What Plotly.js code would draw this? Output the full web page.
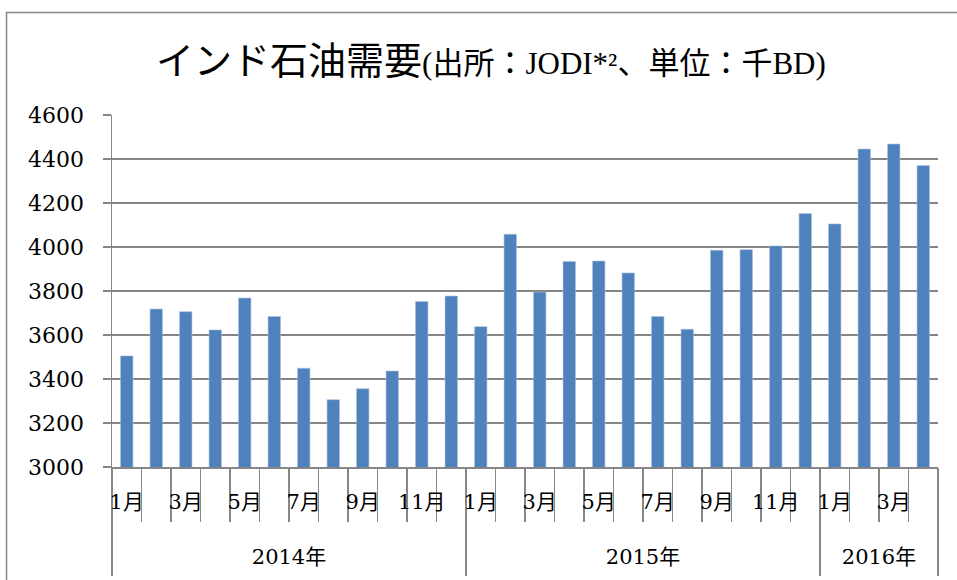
<!DOCTYPE html>
<html>
<head>
<meta charset="utf-8">
<script src="https://cdn.plot.ly/plotly-3.0.1.min.js"></script>
<style>
html,body{margin:0;padding:0;background:#fff;}
#chart{width:957px;height:580px;}
</style>
</head>
<body>
<div id="chart"></div>
<script>
// ---- data ----
const years = ['2014年', '2015年', '2016年'];
const monthsPerYear = [12, 12, 4];
const monthLabels = ['1月','2月','3月','4月','5月','6月','7月','8月','9月','10月','11月','12月',
                     '1月','2月','3月','4月','5月','6月','7月','8月','9月','10月','11月','12月',
                     '1月','2月','3月','4月'];
const demand = [3505, 3718, 3706, 3623, 3768, 3684, 3449, 3306, 3356, 3436, 3752, 3777,
                3638, 4058, 3795, 3934, 3936, 3882, 3684, 3626, 3985, 3988, 4005, 4152,
                4105, 4445, 4468, 4370];
const yTicks = [3000, 3200, 3400, 3600, 3800, 4000, 4200, 4400, 4600];

// ---- derived positions ----
const xIdx = demand.map((_, i) => i);
const n = demand.length;
const boundaries = [];
for (let i = 0; i <= n; i++) boundaries.push(i - 0.5);
const oddIdx = xIdx.filter(i => parseInt(monthLabels[i]) % 2 === 1);
const oddText = oddIdx.map(i => monthLabels[i]);
const yearBounds = [-0.5];
const yearCenters = [];
let acc = 0;
monthsPerYear.forEach(c => { yearCenters.push(acc + (c - 1) / 2); acc += c; yearBounds.push(acc - 0.5); });

const range = [-0.5, n - 0.5];
const grey = '#868686';
const numFont = '"DejaVu Serif", "Noto Sans CJK JP", serif';

const traces = [
  { type: 'bar', x: xIdx, y: demand, marker: { color: '#4F81BD', line: { color: '#A7BFDE', width: 0.6 } },
    hoverinfo: 'skip', showlegend: false },
  { type: 'scatter', x: [], y: [], xaxis: 'x2', showlegend: false },
  { type: 'scatter', x: [], y: [], xaxis: 'x3', showlegend: false },
  { type: 'scatter', x: [], y: [], xaxis: 'x4', showlegend: false }
];

const layout = {
  width: 957, height: 580,
  margin: { l: 112, r: 19, t: 115, b: 113 },
  paper_bgcolor: '#fff', plot_bgcolor: '#fff',
  bargap: 0.58,
  showlegend: false,
  title: {
    text: 'インド石油需要<span style="font-size:31px">(出所：JODI*²、単位：千BD)</span>',
    font: { family: '"Liberation Serif", "Noto Sans CJK JP", serif', size: 38, color: '#000' },
    xref: 'container', x: 0.513, xanchor: 'center',
    yref: 'container', y: 0.895, yanchor: 'middle'
  },
  yaxis: {
    range: [3000, 4600], autorange: false, tickvals: yTicks, ticktext: yTicks.map(String),
    showgrid: true, gridcolor: grey, gridwidth: 1.5,
    showline: true, linecolor: grey, linewidth: 1.5,
    ticks: 'outside', ticklen: 8, tickcolor: grey, tickwidth: 1.5,
    ticklabelstandoff: 14,
    tickfont: { family: numFont, size: 22, color: '#000' },
    zeroline: false, fixedrange: true
  },
  xaxis: {
    range: range, autorange: false,
    tickmode: 'array', tickvals: boundaries, ticktext: boundaries.map(() => ''),
    ticks: 'outside', ticklen: 53, tickcolor: grey, tickwidth: 1.5,
    showline: true, linecolor: grey, linewidth: 1.5,
    showgrid: false, zeroline: false, fixedrange: true
  },
  xaxis2: {
    overlaying: 'x', anchor: 'y', side: 'bottom',
    range: range, autorange: false,
    tickmode: 'array', tickvals: yearBounds, ticktext: yearBounds.map(() => ''),
    ticks: 'outside', ticklen: 108, tickcolor: grey, tickwidth: 1.5,
    showline: false, showgrid: false, zeroline: false, fixedrange: true
  },
  xaxis3: {
    overlaying: 'x', anchor: 'y', side: 'bottom',
    range: range, autorange: false,
    tickmode: 'array', tickvals: oddIdx, ticktext: oddText,
    ticks: 'outside', ticklen: 16, tickcolor: 'rgba(0,0,0,0)',
    tickfont: { family: numFont, size: 21, color: '#000' },
    showline: false, showgrid: false, zeroline: false, fixedrange: true
  },
  xaxis4: {
    overlaying: 'x', anchor: 'y', side: 'bottom',
    range: range, autorange: false,
    tickmode: 'array', tickvals: yearCenters, ticktext: years,
    ticks: 'outside', ticklen: 71, tickcolor: 'rgba(0,0,0,0)',
    tickfont: { family: numFont, size: 21, color: '#000' },
    showline: false, showgrid: false, zeroline: false, fixedrange: true
  },
  shapes: [
    { type: 'rect', xref: 'paper', yref: 'paper', layer: 'below',
      x0: -0.1277, x1: 1.05, y0: -0.4, y1: 1.2912,
      line: { color: grey, width: 1.5 }, fillcolor: 'rgba(0,0,0,0)' }
  ]
};

Plotly.newPlot('chart', traces, layout, { displayModeBar: false, staticPlot: true });
</script>
</body>
</html>
